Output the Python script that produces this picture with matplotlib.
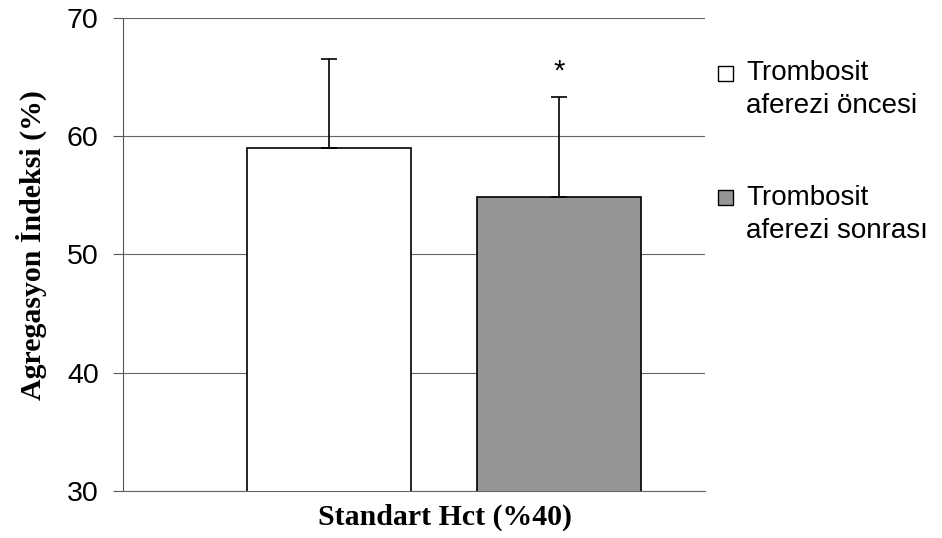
import matplotlib.pyplot as plt
from matplotlib.patches import Rectangle

groups = ["Trombosit\naferezi öncesi", "Trombosit\naferezi sonrası"]
means = [59.0, 54.9]
sd_up = [7.5, 8.4]
colors = ["white", "#969696"]
yticks = [30, 40, 50, 60, 70]

plt.rcParams['font.family'] = ['Liberation Sans', 'DejaVu Sans']

fig = plt.figure(figsize=(9.42, 5.38), dpi=100)
ax = fig.add_axes([0.1306, 0.0874, 0.6178, 0.8792])

x = [0, 1]
ax.bar(x, means, width=0.717, bottom=0, color=colors, edgecolor='black',
       linewidth=1.2, zorder=3)
ax.errorbar(x, means, yerr=[[0, 0], sd_up], fmt='none', ecolor='black',
            elinewidth=1.2, capsize=5.5, capthick=1.2, zorder=4)
ax.text(1, 65.5, "*", ha='center', va='center', fontsize=21, zorder=5)

ax.set_xlim(-0.896, 1.635)
ax.set_ylim(30, 70)
ax.set_yticks(yticks)
ax.set_xticks([])
ax.tick_params(axis='y', labelsize=20.5, length=7, width=0.8,
               color='#555555', pad=10.5)
ax.yaxis.grid(True, color='#666666', linewidth=0.8, zorder=0)
ax.set_axisbelow(True)
for s in ['top', 'right']:
    ax.spines[s].set_visible(False)
ax.spines['left'].set_color('#555555')
ax.spines['bottom'].set_color('#666666')
ax.spines['left'].set_linewidth(0.8)
ax.spines['bottom'].set_linewidth(0.8)

ax.set_xlabel("Standart Hct (%40)", family='Liberation Serif', weight='bold',
              fontsize=21.5, va='center')
ax.xaxis.set_label_coords(0.553, -0.055)
ax.set_ylabel("Agregasyon İndeksi (%)", family='Liberation Serif',
              weight='bold', fontsize=21.5, va='center')
ax.yaxis.set_label_coords(-0.157, 0.52)

# legend on the right
W, H = 942, 538
sq_tops = [66, 190]
last_baselines = [112.7, 238]
for top, base, c, lab in zip(sq_tops, last_baselines, colors, groups):
    fig.patches.append(Rectangle((718 / W, (H - top - 15) / H), 15 / W, 15 / H,
                                 transform=fig.transFigure, facecolor=c,
                                 edgecolor='black', linewidth=1.0))
    fig.text(746 / W, (H - base) / H, lab, fontsize=20, va='baseline',
             ha='left', linespacing=1.33)

fig.savefig("out.png", dpi=100)
